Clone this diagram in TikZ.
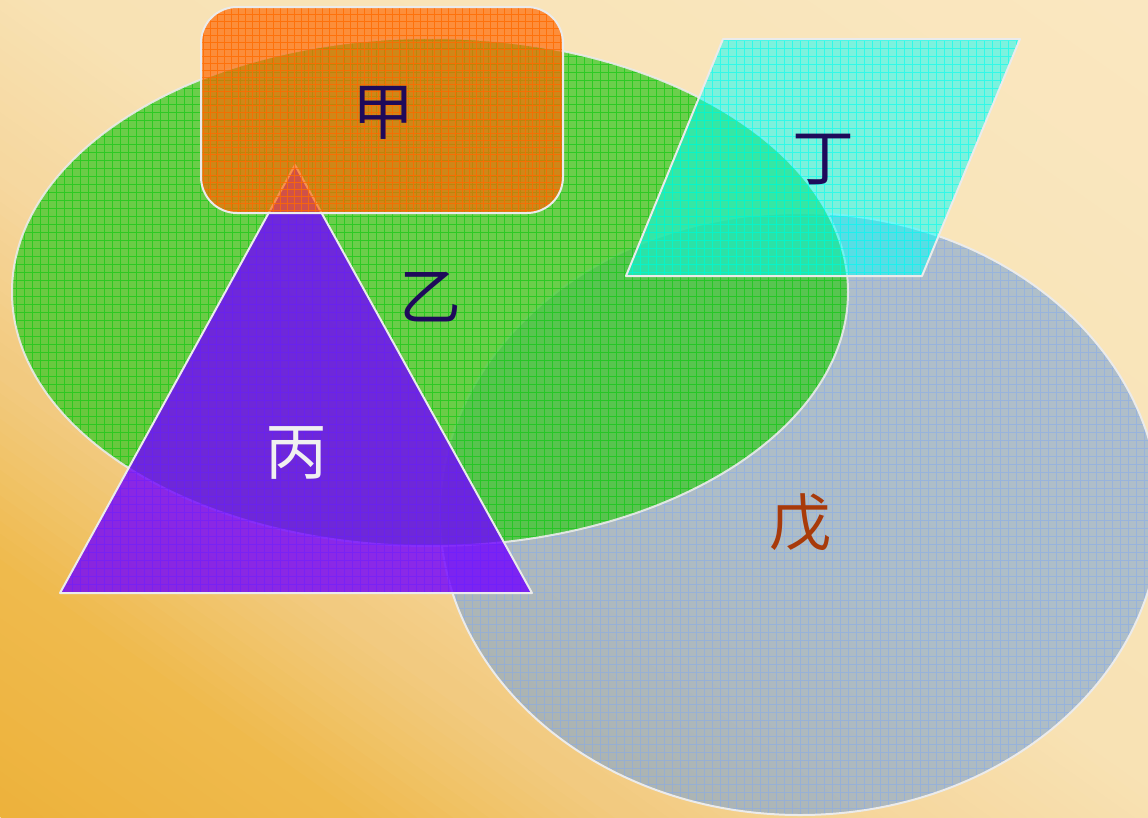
\documentclass[tikz,border=0pt]{standalone}
\usepackage{fontspec}
\newfontfamily\cjk{Noto Sans CJK SC}
\definecolor{bgA}{RGB}{237,178,60}
\definecolor{bgAb}{RGB}{239,186,76}
\definecolor{bgB}{RGB}{242,202,128}
\definecolor{bgC}{RGB}{246,216,160}
\definecolor{bgD}{RGB}{248,226,180}
\definecolor{bgE}{RGB}{250,231,192}
\definecolor{gfill}{RGB}{60,200,40}
\definecolor{ggrid}{RGB}{20,200,20}
\definecolor{ofill}{RGB}{255,102,0}
\definecolor{ogrid}{RGB}{255,106,0}
\definecolor{pfill}{RGB}{112,0,255}
\definecolor{pgrid}{RGB}{110,30,255}
\definecolor{cfill}{RGB}{0,255,255}
\definecolor{cgrid}{RGB}{0,255,240}
\definecolor{bfill}{RGB}{115,160,215}
\definecolor{bgrid}{RGB}{130,170,240}
\definecolor{edgec}{RGB}{235,235,235}
\definecolor{navy}{RGB}{30,10,90}
\definecolor{rust}{RGB}{168,58,10}
\tikzset{
  edgeline/.style={draw=edgec, line width=2pt, line join=round},
  gridline/.style={line width=0.8pt},
  lbl/.style={font=\cjk\fontsize{62}{62}\selectfont, inner sep=0pt}
}
% strip between diagonal levels s = u+v (u = x/W, v = 1 - y/H)
\newcommand{\bgstrip}[3]{%
  \fill[#3] ({(#1-2)*1148},-817) -- ({(#1+2)*1148},2451) -- ({(#2+2)*1148},2451) -- ({(#2-2)*1148},-817) -- cycle;}
% segment: from level #1 to #2, colour #3 to #4, in 16 steps
\newcommand{\bgseg}[4]{%
  \foreach \k in {0,...,15} {
    \pgfmathsetmacro{\sa}{#1+(#2-#1)*\k/16}
    \pgfmathsetmacro{\sb}{#1+(#2-#1)*(\k+1.3)/16}
    \pgfmathsetmacro{\pp}{100*\k/15}
    \bgstrip{\sa}{\sb}{#4!\pp!#3}
  }}
\begin{document}
\begin{tikzpicture}[x=1pt,y=-1pt]
\useasboundingbox (0,0) rectangle (1148,817);
% background gradient
\begin{scope}
  \clip (0,0) rectangle (1148,817);
  \fill[bgE] (0,0) rectangle (1148,817);
  \fill[bgA] (0,817) -- (0,700) -- (100,817) -- cycle;
  \bgseg{0}{0.3}{bgA}{bgAb}
  \bgseg{0.3}{0.55}{bgAb}{bgB}
  \bgseg{0.55}{0.8}{bgB}{bgC}
  \bgseg{0.8}{1.05}{bgC}{bgD}
  \bgseg{1.05}{2}{bgD}{bgE}
\end{scope}

% 戊 blue ellipse
\begin{scope}[opacity=0.55]
  \fill[bfill] (800,514) ellipse [x radius=360, y radius=301];
\end{scope}
\begin{scope}
  \clip (800,514) ellipse [x radius=360, y radius=301];
  \begin{scope}[y=1pt]
    \draw[bgrid, gridline, opacity=0.5, step=8] (430,-830) grid (1170,-200);
  \end{scope}
\end{scope}
\draw[edgeline] (800,514) ellipse [x radius=360, y radius=301];

% 乙 green ellipse
\begin{scope}[opacity=0.75]
  \fill[gfill] (430,292) ellipse [x radius=418, y radius=254];
\end{scope}
\begin{scope}
  \clip (430,292) ellipse [x radius=418, y radius=254];
  \begin{scope}[y=1pt]
    \draw[ggrid, gridline, opacity=0.7, step=8] (0,-560) grid (860,-30);
  \end{scope}
\end{scope}
\draw[edgeline, opacity=0.9] (430,292) ellipse [x radius=418, y radius=254];

% 丙 triangle
\begin{scope}[opacity=0.8]
  \fill[pfill] (295,165) -- (532,593) -- (60,593) -- cycle;
\end{scope}
\begin{scope}
  \clip (295,165) -- (532,593) -- (60,593) -- cycle;
  \begin{scope}[y=1pt]
    \draw[pgrid, gridline, opacity=0.6, step=8] (50,-600) grid (540,-160);
  \end{scope}
\end{scope}
\draw[edgeline] (295,165) -- (532,593) -- (60,593) -- cycle;

% 甲 orange rounded rectangle
\begin{scope}[opacity=0.68]
  \fill[ofill, rounded corners=36] (201,7) rectangle (563,213);
\end{scope}
\begin{scope}
  \clip[rounded corners=36] (201,7) rectangle (563,213);
  \begin{scope}[y=1pt]
    \draw[ogrid, gridline, opacity=0.8, step=7] (195,-220) grid (570,0);
  \end{scope}
\end{scope}
\draw[edgeline, rounded corners=36] (201,7) rectangle (563,213);

% 丁 parallelogram
\begin{scope}[opacity=0.5]
  \fill[cfill] (723,39) -- (1020,39) -- (922,276) -- (626,276) -- cycle;
\end{scope}
\begin{scope}
  \clip (723,39) -- (1020,39) -- (922,276) -- (626,276) -- cycle;
  \begin{scope}[y=1pt]
    \draw[cgrid, gridline, opacity=0.6, step=8] (620,-280) grid (1030,-30);
  \end{scope}
\end{scope}
\draw[edgeline] (723,39) -- (1020,39) -- (922,276) -- (626,276) -- cycle;

% labels
\node[lbl, text=navy] (jia) at (383,113) {甲};
\node[lbl, text=navy] (yi) at (430,297) {乙};
\node[lbl, text=white!94!black] (bing) at (296,453) {丙};
\node[lbl, text=navy] (ding) at (823,160) {丁};
\node[lbl, text=rust] (wu) at (800,523) {戊};
\end{tikzpicture}
\end{document}
